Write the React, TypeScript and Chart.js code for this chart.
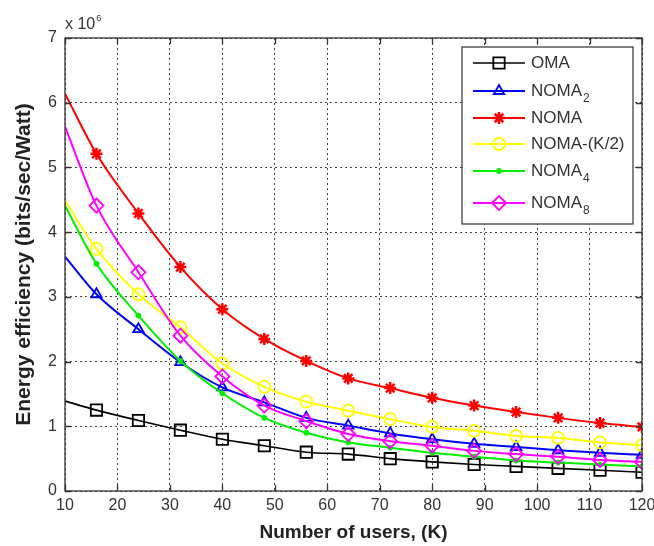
import React, { useEffect, useRef } from "react";
import { Chart, registerables } from "chart.js";
import { drawPoint } from "chart.js/helpers";

Chart.register(...registerables);

// Number of users K (first point is the curve start, markers from 16 on)
const K = [10, 16, 24, 32, 40, 48, 56, 64, 72, 80, 88, 96, 104, 112, 120];
const X_TICKS = [10, 20, 30, 40, 50, 60, 70, 80, 90, 100, 110, 120];
const Y_TICKS = [0, 1, 2, 3, 4, 5, 6, 7];

// Energy efficiency (x 10^6 bits/sec/Watt)
const OMA = [1.39, 1.25, 1.09, 0.94, 0.8, 0.7, 0.6, 0.57, 0.5, 0.45, 0.41, 0.38, 0.35, 0.32, 0.29];
const NOMA2 = [3.62, 3.04, 2.5, 1.99, 1.6, 1.37, 1.13, 1.01, 0.89, 0.8, 0.73, 0.68, 0.63, 0.59, 0.56];
const NOMA = [6.14, 5.21, 4.29, 3.46, 2.81, 2.35, 2.01, 1.74, 1.59, 1.44, 1.32, 1.22, 1.13, 1.05, 0.99];
const NOMA_K2 = [4.49, 3.74, 3.04, 2.53, 1.97, 1.61, 1.38, 1.24, 1.11, 0.99, 0.93, 0.85, 0.82, 0.75, 0.71];
const NOMA4 = [4.41, 3.51, 2.71, 2.01, 1.51, 1.13, 0.9, 0.75, 0.67, 0.59, 0.53, 0.47, 0.44, 0.41, 0.38];
const NOMA8 = [5.63, 4.41, 3.38, 2.4, 1.77, 1.32, 1.08, 0.88, 0.77, 0.7, 0.62, 0.57, 0.53, 0.48, 0.45];

const LABELS = ["OMA", "NOMA₂", "NOMA", "NOMA-(K/2)", "NOMA₄", "NOMA₈"];
const LABEL_MAIN = ["OMA", "NOMA", "NOMA", "NOMA-(K/2)", "NOMA", "NOMA"];
const LABEL_SUB = ["", "2", "", "", "4", "8"];

const FONT = '"Liberation Sans", Arial, Helvetica, sans-serif';

type Style = {
  color: string;
  pointStyle: string;
  radius: number;
  fill: string;
  borderWidth: number;
  lineWidth: number;
};

const STYLES: Style[] = [
  { color: "#000000", pointStyle: "rect", radius: 8, fill: "rgba(0,0,0,0)", borderWidth: 1.8, lineWidth: 1.6 },
  { color: "#0000ff", pointStyle: "triangle", radius: 6, fill: "rgba(0,0,0,0)", borderWidth: 1.8, lineWidth: 2 },
  { color: "#ff0000", pointStyle: "star", radius: 6, fill: "#ff0000", borderWidth: 2.5, lineWidth: 2 },
  { color: "#ffff00", pointStyle: "circle", radius: 6, fill: "rgba(0,0,0,0)", borderWidth: 1.8, lineWidth: 2 },
  { color: "#00ee00", pointStyle: "circle", radius: 2.5, fill: "#00ee00", borderWidth: 1, lineWidth: 2 },
  { color: "#ff00ff", pointStyle: "rectRot", radius: 7, fill: "rgba(0,0,0,0)", borderWidth: 1.8, lineWidth: 2 },
];

const SERIES = [OMA, NOMA2, NOMA, NOMA_K2, NOMA4, NOMA8];

const overlay = {
  id: "overlay",
  afterDraw(chart: any) {
    const { ctx, chartArea: a, scales } = chart;
    ctx.save();
    // frame
    ctx.strokeStyle = "#333";
    ctx.lineWidth = 1.3;
    ctx.setLineDash([]);
    ctx.strokeRect(a.left, a.top, a.right - a.left, a.bottom - a.top);
    // inner ticks
    const tl = 6;
    ctx.beginPath();
    for (const v of X_TICKS) {
      const x = Math.round(scales.x.getPixelForValue(v)) + 0.5;
      ctx.moveTo(x, a.bottom);
      ctx.lineTo(x, a.bottom - tl);
      ctx.moveTo(x, a.top);
      ctx.lineTo(x, a.top + tl);
    }
    for (const v of Y_TICKS) {
      const y = Math.round(scales.y.getPixelForValue(v)) + 0.5;
      ctx.moveTo(a.left, y);
      ctx.lineTo(a.left + tl, y);
      ctx.moveTo(a.right, y);
      ctx.lineTo(a.right - tl, y);
    }
    ctx.stroke();

    // exponent label
    ctx.fillStyle = "#333";
    ctx.textBaseline = "alphabetic";
    ctx.textAlign = "left";
    ctx.font = `16px ${FONT}`;
    const base = "x 10";
    ctx.fillText(base, a.left, 29);
    const w = ctx.measureText(base).width;
    ctx.font = `9px ${FONT}`;
    ctx.fillText("6", a.left + w + 1, 21);

    // legend
    const lx = 462, ly = 47, lw = 171, lh = 177;
    ctx.fillStyle = "#ffffff";
    ctx.fillRect(lx, ly, lw, lh);
    ctx.strokeStyle = "#333";
    ctx.lineWidth = 1.2;
    ctx.strokeRect(lx, ly, lw, lh);
    const rows = [63, 91, 118, 144, 171, 203];
    STYLES.forEach((s, i) => {
      const y = rows[i];
      ctx.strokeStyle = s.color;
      ctx.lineWidth = s.lineWidth;
      ctx.beginPath();
      ctx.moveTo(473, y);
      ctx.lineTo(525, y);
      ctx.stroke();
      ctx.fillStyle = s.fill;
      ctx.lineWidth = s.borderWidth;
      drawPoint(ctx, { pointStyle: s.pointStyle as any, radius: s.radius, borderWidth: s.borderWidth, rotation: 0 }, 499, y);
      ctx.fillStyle = "#333";
      ctx.font = `17px ${FONT}`;
      ctx.textBaseline = "middle";
      ctx.fillText(LABEL_MAIN[i], 531, y);
      if (LABEL_SUB[i]) {
        const mw = ctx.measureText(LABEL_MAIN[i]).width;
        ctx.font = `12px ${FONT}`;
        ctx.fillText(LABEL_SUB[i], 531 + mw + 1, y + 8);
      }
    });
    ctx.restore();
  },
};

export default function App() {
  const ref = useRef<HTMLCanvasElement>(null);
  useEffect(() => {
    const datasets = SERIES.map((vals, i) => {
      const s = STYLES[i];
      return {
        label: LABELS[i],
        data: K.map((k, j) => ({ x: k, y: vals[j] })),
        borderColor: s.color,
        backgroundColor: s.fill,
        borderWidth: s.lineWidth,
        pointStyle: s.pointStyle as any,
        pointRadius: K.map((_, j) => (j === 0 ? 0 : s.radius)),
        pointBorderColor: s.color,
        pointBackgroundColor: s.fill,
        pointBorderWidth: s.borderWidth,
        cubicInterpolationMode: "monotone" as const,
        tension: 0.4,
        fill: false,
        order: 10 - i,
      };
    });
    const chart = new Chart(ref.current!, {
      type: "line",
      data: { datasets },
      plugins: [overlay],
      options: {
        animation: false,
        responsive: false,
        devicePixelRatio: 1,
        layout: { padding: { top: 38, right: 12, left: 0, bottom: 0 } },
        plugins: { legend: { display: false }, tooltip: { enabled: false } },
        scales: {
          x: {
            type: "linear",
            min: 10,
            max: 120,
            afterFit: (s: any) => {
              s.height = 55;
              s.paddingLeft = 0;
              s.paddingRight = 0;
            },
            afterBuildTicks: (s: any) => {
              s.ticks = X_TICKS.map((v) => ({ value: v }));
            },
            ticks: { color: "#333", font: { size: 16, family: FONT }, padding: 5, maxRotation: 0, autoSkip: false },
            grid: { color: "#444", lineWidth: 1, drawTicks: false },
            border: { display: false, dash: [2, 3] },
            title: {
              display: true,
              text: "Number of users, (K)",
              color: "#222",
              font: { size: 19, weight: "bold", family: FONT },
              padding: { top: 0, bottom: 2 },
            },
          },
          y: {
            type: "linear",
            min: 0,
            max: 7,
            afterFit: (s: any) => {
              s.width = 65;
              s.paddingTop = 0;
              s.paddingBottom = 0;
            },
            afterBuildTicks: (s: any) => {
              s.ticks = Y_TICKS.map((v) => ({ value: v }));
            },
            ticks: { color: "#333", font: { size: 16, family: FONT }, padding: 8, autoSkip: false },
            grid: { color: "#444", lineWidth: 1, drawTicks: false },
            border: { display: false, dash: [2, 3] },
            title: {
              display: true,
              text: "Energy efficiency (bits/sec/Watt)",
              color: "#222",
              font: { size: 21, weight: "bold", family: FONT },
              padding: { top: 12, bottom: 0 },
            },
          },
        },
      },
    });
    return () => chart.destroy();
  }, []);
  return (
    <div style={{ position: "fixed", left: 0, top: 0, width: 654, height: 546, background: "#fff" }}>
      <canvas ref={ref} width={654} height={546} style={{ display: "block" }} />
    </div>
  );
}
